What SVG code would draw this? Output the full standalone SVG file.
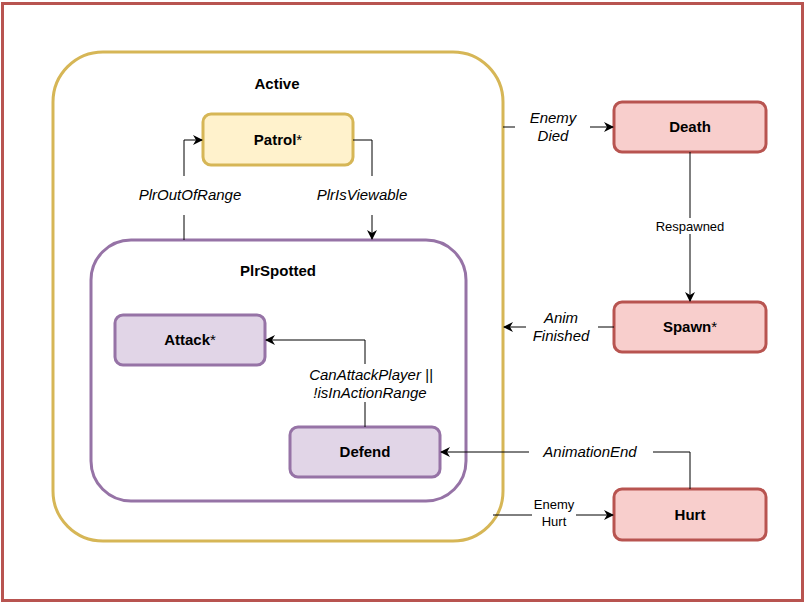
<svg xmlns="http://www.w3.org/2000/svg" width="806" height="603" viewBox="0 0 806 603">
<style>
text{font-family:"Liberation Sans",Arial,sans-serif;fill:#000}
.b{font-weight:bold;font-size:15px}
.i{font-style:italic;font-size:15px}
.s{font-size:13px}
.red{fill:#f8cecc;stroke:#b85450;stroke-width:3}
.yel{fill:#fff2cc;stroke:#d6b656;stroke-width:3}
.pur{fill:#e1d5e7;stroke:#9673a6;stroke-width:3}
.e{fill:none;stroke:#000;stroke-width:1}
</style>
<defs>
<marker id="a" viewBox="0 0 10 10" refX="9" refY="5" markerWidth="10" markerHeight="10" markerUnits="userSpaceOnUse" orient="auto">
<path d="M0,0 L10,5 L0,10 L3,5 Z" fill="#000"/>
</marker>
</defs>
<rect x="0" y="0" width="806" height="603" fill="#fff"/>
<rect id="frame" x="2.5" y="3.5" width="800" height="597" fill="none" stroke="#b85450" stroke-width="3"/>
<g id="Active">
<rect x="53" y="52" width="450" height="489" rx="50" fill="#fff" stroke="#d6b656" stroke-width="3"/>
<text class="b" x="277" y="89" text-anchor="middle">Active</text>
</g>
<g id="PlrSpotted">
<rect x="91" y="240" width="375" height="261" rx="40" fill="#fff" stroke="#9673a6" stroke-width="3"/>
<text class="b" x="278" y="276" text-anchor="middle">PlrSpotted</text>
</g>
<g id="Patrol">
<rect class="yel" x="203" y="114" width="150" height="51" rx="8"/>
<text class="b" x="278" y="145" text-anchor="middle">Patrol<tspan font-weight="normal">*</tspan></text>
</g>
<g id="Attack">
<rect class="pur" x="115" y="315" width="150" height="50" rx="8"/>
<text class="b" x="190" y="345" text-anchor="middle">Attack<tspan font-weight="normal">*</tspan></text>
</g>
<g id="Defend">
<rect class="pur" x="290" y="427" width="150" height="50" rx="8"/>
<text class="b" x="365" y="457" text-anchor="middle">Defend</text>
</g>
<g id="Death">
<rect class="red" x="614" y="102" width="152" height="50" rx="8"/>
<text class="b" x="690" y="132" text-anchor="middle">Death</text>
</g>
<g id="Spawn">
<rect class="red" x="614" y="302" width="152" height="50" rx="8"/>
<text class="b" x="690" y="332" text-anchor="middle">Spawn<tspan font-weight="normal">*</tspan></text>
</g>
<g id="Hurt">
<rect class="red" x="614" y="489" width="152" height="51" rx="8"/>
<text class="b" x="690" y="520" text-anchor="middle">Hurt</text>
</g>
<g id="connectors">
<path class="e" d="M503,127 L515,127 M590,127 L613,127" marker-end="url(#a)"/>
<text class="i" x="553" y="123" text-anchor="middle">Enemy</text>
<text class="i" x="553" y="141" text-anchor="middle">Died</text>
<path class="e" d="M690,152 L690,301" marker-end="url(#a)"/>
<rect x="652" y="218" width="76" height="16" fill="#fff"/>
<text class="s" x="690" y="231" text-anchor="middle">Respawned</text>
<path class="e" d="M614,327 L598,327 M526,327 L504,327" marker-end="url(#a)"/>
<text class="i" x="561" y="323" text-anchor="middle">Anim</text>
<text class="i" x="561" y="341" text-anchor="middle">Finished</text>
<path class="e" d="M690,489 L690,452 L653,452 M529,452 L441,452" marker-end="url(#a)"/>
<text class="i" x="590" y="457" text-anchor="middle">AnimationEnd</text>
<path class="e" d="M493,515 L532,515 M576,515 L613,515" marker-end="url(#a)"/>
<text class="s" x="554" y="509" text-anchor="middle">Enemy</text>
<text class="s" x="554" y="526" text-anchor="middle">Hurt</text>
<path class="e" d="M184,240 L184,215 M184,176 L184,140 L202,140" marker-end="url(#a)"/>
<text class="i" x="190" y="200" text-anchor="middle">PlrOutOfRange</text>
<path class="e" d="M353,140 L372,140 L372,176 M372,215 L372,239" marker-end="url(#a)"/>
<text class="i" x="362" y="200" text-anchor="middle">PlrIsViewable</text>
<path class="e" d="M365,427 L365,402 M365,364 L365,340 L266,340" marker-end="url(#a)"/>
<text class="i" x="371" y="380" text-anchor="middle">CanAttackPlayer ||</text>
<text class="i" x="370" y="398" text-anchor="middle">!isInActionRange</text>
</g>
</svg>
